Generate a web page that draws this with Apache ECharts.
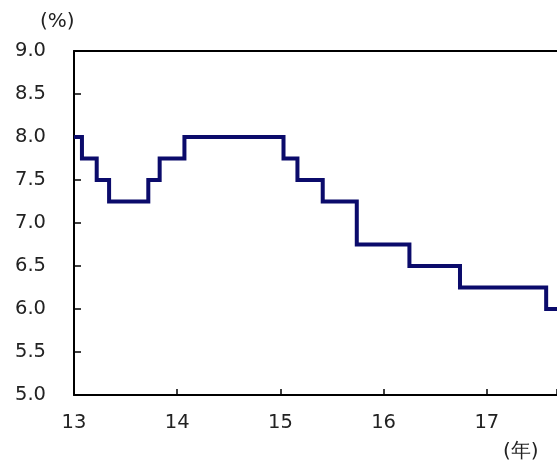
<!DOCTYPE html>
<html><head><meta charset="utf-8">
<script src="https://cdn.jsdelivr.net/npm/echarts@6/dist/echarts.min.js"></script>
<style>html,body{margin:0;padding:0;background:#fff}#c{width:557px;height:461px}</style>
</head><body><div id="c"></div>
<script>
const changeDates = [13.0, 13.077, 13.22, 13.34, 13.72, 13.83, 14.07, 15.03, 15.165, 15.41, 15.74, 16.25, 16.74, 17.575, 17.68];
const rates = [8.0, 7.75, 7.5, 7.25, 7.5, 7.75, 8.0, 7.75, 7.5, 7.25, 6.75, 6.5, 6.25, 6.0, 6.0];
const xTicks = [13, 14, 15, 16, 17];
const yUnit = '(%)';
const xUnit = '(年)';

const font = 'DejaVu Sans, Verdana, sans-serif';
const chart = echarts.init(document.getElementById('c'));
chart.setOption({
  animation: false,
  grid: {left: 74, top: 51, width: 483, height: 344, containLabel: false, outerBoundsMode: 'none'},
  xAxis: [{
    type: 'value', min: 13, max: 17.68, interval: 1,
    axisLine: {show: true, onZero: false, lineStyle: {color: '#000', width: 2}},
    axisTick: {show: true, inside: true, length: 6, lineStyle: {color: '#000', width: 1.5}},
    splitLine: {show: false},
    axisLabel: {color: '#222', fontSize: 19.5, fontFamily: font, margin: 18,
      formatter: v => xTicks.includes(Math.round(v)) && Math.abs(v - Math.round(v)) < 1e-6 ? String(Math.round(v)) : ''}
  }, {
    type: 'value', position: 'top', min: 13, max: 17.68,
    axisLine: {show: true, lineStyle: {color: '#000', width: 2}},
    axisTick: {show: false}, axisLabel: {show: false}, splitLine: {show: false}
  }],
  yAxis: {
    type: 'value', min: 5, max: 9, interval: 0.5,
    axisLine: {show: true, lineStyle: {color: '#000', width: 2}},
    axisTick: {show: true, inside: true, length: 7, lineStyle: {color: '#000', width: 1.5}},
    splitLine: {show: false},
    axisLabel: {color: '#222', fontSize: 19.5, fontFamily: font, margin: 28, formatter: v => v.toFixed(1)}
  },
  series: [{
    type: 'line', step: 'end', showSymbol: false,
    data: changeDates.map((d, i) => [d, rates[i]]),
    lineStyle: {color: '#0b0b6b', width: 4, join: 'miter'},
    clip: true
  }],
  graphic: [
    {type: 'text', left: 40, top: 12, style: {text: yUnit, fontSize: 20, fontFamily: font, fill: '#222'}},
    {type: 'text', left: 503, top: 442, style: {text: xUnit, fontSize: 20, fontFamily: font, fill: '#222'}}
  ]
});
</script></body></html>
